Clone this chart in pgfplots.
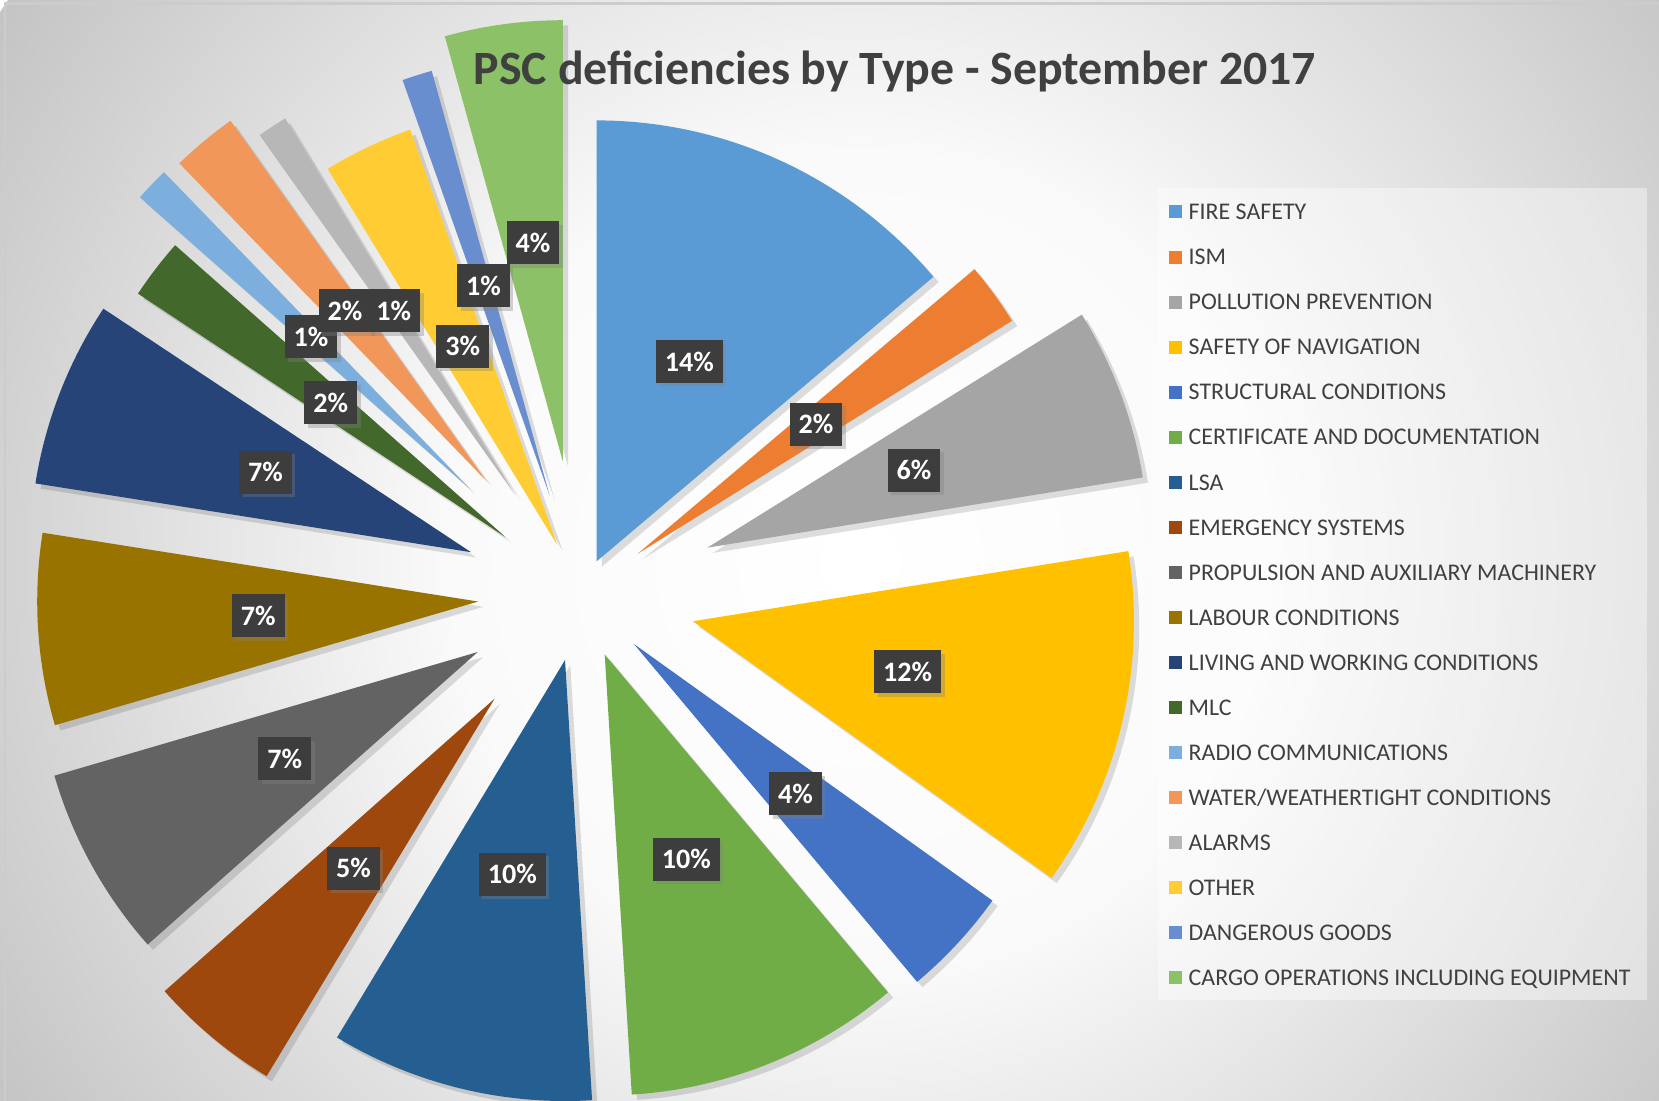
\documentclass[border=0pt]{standalone}
\usepackage{fontspec}
\setmainfont{Carlito}
\usepackage{pgfplots}
\pgfplotsset{compat=1.18}
\usepackage{pgfplotstable}
\usetikzlibrary{shadows}

% Office palette, one colour per category
\definecolor{c0}{HTML}{5B9BD5}
\definecolor{c1}{HTML}{ED7D31}
\definecolor{c2}{HTML}{A5A5A5}
\definecolor{c3}{HTML}{FFC000}
\definecolor{c4}{HTML}{4472C4}
\definecolor{c5}{HTML}{70AD47}
\definecolor{c6}{HTML}{255E91}
\definecolor{c7}{HTML}{9E480E}
\definecolor{c8}{HTML}{636363}
\definecolor{c9}{HTML}{997300}
\definecolor{c10}{HTML}{264478}
\definecolor{c11}{HTML}{43682B}
\definecolor{c12}{HTML}{7CAFDD}
\definecolor{c13}{HTML}{F1975A}
\definecolor{c14}{HTML}{B7B7B7}
\definecolor{c15}{HTML}{FFCD33}
\definecolor{c16}{HTML}{698ED0}
\definecolor{c17}{HTML}{8CC168}
\definecolor{txt}{HTML}{404040}
\definecolor{lbl}{HTML}{3D3D3D}
\definecolor{bgdark}{HTML}{C4C4C4}
\definecolor{bglight}{HTML}{FAFAFA}
\pgfdeclareradialshading{bgshade}{\pgfpoint{0bp}{0bp}}{color(0bp)=(white); color(10bp)=(bglight); color(25bp)=(bgdark); color(50bp)=(bgdark)}

% share of deficiencies (%) and how far each slice is pulled out (px)
\pgfplotstableread[col sep=comma]{
name,val,exp
FIRE SAFETY,13.8,37
ISM,2.3,70
POLLUTION PREVENTION,6.3,135
SAFETY OF NAVIGATION,12.4,115
STRUCTURAL CONDITIONS,4.0,72
CERTIFICATE AND DOCUMENTATION,10.1,64
LSA,9.6,67
EMERGENCY SYSTEMS,4.8,135
PROPULSION AND AUXILIARY MACHINERY,7.0,118
LABOUR CONDITIONS,7.0,103
LIVING AND WORKING CONDITIONS,6.8,118
MLC,2.2,95
RADIO COMMUNICATIONS,1.25,153
WATER/WEATHERTIGHT CONDITIONS,2.4,149
ALARMS,1.1,120
OTHER,3.3,55
DANGEROUS GOODS,1.1,104
CARGO OPERATIONS INCLUDING EQUIPMENT,4.3,135
}\pscdata

\def\cx{581}\def\cy{506}\def\rad{441}

\begin{document}
\begin{tikzpicture}
% total and slice geometry
\def\tot{0}
\pgfplotsforeachungrouped \i in {0,...,17}{%
  \pgfplotstablegetelem{\i}{val}\of\pscdata
  \pgfmathsetmacro\tot{\tot+\pgfplotsretval}}
\def\cum{0}
\pgfplotsforeachungrouped \i in {0,...,17}{%
  \pgfplotstablegetelem{\i}{val}\of\pscdata \let\v\pgfplotsretval
  \pgfplotstablegetelem{\i}{exp}\of\pscdata \let\e\pgfplotsretval
  \pgfmathsetmacro\aone{90-360*(\cum/\tot)}
  \pgfmathsetmacro\cum{\cum+\v}
  \pgfmathsetmacro\atwo{90-360*(\cum/\tot)}
  \pgfmathsetmacro\bis{(\aone+\atwo)/2}
  \pgfmathsetmacro\tx{\cx+\e*cos(\bis)}
  \pgfmathsetmacro\ty{\cy+\e*sin(\bis)}
  \pgfmathsetmacro\ox{\tx+\rad*cos(\aone)}
  \pgfmathsetmacro\oy{\ty+\rad*sin(\aone)}
  \pgfmathsetmacro\lx{\tx+0.5*\rad*cos(\bis)}
  \pgfmathsetmacro\ly{\ty+0.5*\rad*sin(\bis)}
  \pgfmathtruncatemacro\pct{round(100*(\v/\tot))}
  \expandafter\xdef\csname tx\i\endcsname{\tx}
  \expandafter\xdef\csname ty\i\endcsname{\ty}
  \expandafter\xdef\csname ox\i\endcsname{\ox}
  \expandafter\xdef\csname oy\i\endcsname{\oy}
  \expandafter\xdef\csname aa\i\endcsname{\aone}
  \expandafter\xdef\csname ab\i\endcsname{\atwo}
  \expandafter\xdef\csname lx\i\endcsname{\lx}
  \expandafter\xdef\csname ly\i\endcsname{\ly}
  \expandafter\xdef\csname pc\i\endcsname{\pct}}

% chart area background
\begin{scope}
  \clip (0,0) rectangle (16.59,11.01);
  \shade[shading=bgshade] (8.6,5.4) circle (10.2);
\end{scope}
\draw[gray!40, line width=0.8pt] (0.05,0) -- (0.05,10.975) -- (16.59,10.975);

\begin{axis}[
  at={(0,0)}, anchor=south west,
  scale only axis, width=16.59cm, height=11.01cm,
  xmin=0, xmax=1659, ymin=0, ymax=1101,
  hide axis, clip=false]
\pgfplotsextra{
  % soft shadows under the slices
  \begin{scope}[xshift=1.5pt, yshift=-1.5pt]
  \pgfplotsforeachungrouped \i in {0,...,17}{%
    \edef\tx{\csname tx\i\endcsname}\edef\ty{\csname ty\i\endcsname}%
    \edef\ox{\csname ox\i\endcsname}\edef\oy{\csname oy\i\endcsname}%
    \edef\aone{\csname aa\i\endcsname}\edef\atwo{\csname ab\i\endcsname}%
    \fill[black, opacity=0.13] (axis cs:\tx,\ty) -- (axis cs:\ox,\oy)
      arc[start angle=\aone, end angle=\atwo, radius=4.41cm] -- cycle;}
  \end{scope}
  % slices
  \pgfplotsforeachungrouped \i in {0,...,17}{%
    \edef\tx{\csname tx\i\endcsname}\edef\ty{\csname ty\i\endcsname}%
    \edef\ox{\csname ox\i\endcsname}\edef\oy{\csname oy\i\endcsname}%
    \edef\aone{\csname aa\i\endcsname}\edef\atwo{\csname ab\i\endcsname}%
    \edef\col{c\i}%
    \fill[fill=\col] (axis cs:\tx,\ty) -- (axis cs:\ox,\oy)
      arc[start angle=\aone, end angle=\atwo, radius=4.41cm] -- cycle;}
  % data labels
  \pgfplotsforeachungrouped \i in {0,...,17}{%
    \edef\lx{\csname lx\i\endcsname}\edef\ly{\csname ly\i\endcsname}%
    \edef\pct{\csname pc\i\endcsname}%
    \node[fill=lbl, text=white, font=\bfseries\fontsize{8}{9}\selectfont,
      inner xsep=0.09cm, minimum height=0.43cm,
      drop shadow={shadow xshift=1pt, shadow yshift=-1pt, opacity=0.35}]
      at (axis cs:\lx,\ly) {\pct\%};}
  % title
  \node[anchor=base, text=txt, font=\bfseries\fontsize{13.6}{16}\selectfont]
    at (axis cs:895,1016) {PSC deficiencies by Type - September 2017};
  % legend
  \fill[white, opacity=0.4] (axis cs:1158,101) rectangle (axis cs:1647,913);
  \pgfplotsforeachungrouped \i in {0,...,17}{%
    \pgfplotstablegetelem{\i}{name}\of\pscdata \let\nm\pgfplotsretval
    \pgfmathsetmacro\yy{1101-(212+45.06*\i)}%
    \edef\col{c\i}%
    \fill[fill=\col] (axis cs:1169,\yy-6.5) rectangle (axis cs:1182,\yy+6.5);
    \node[anchor=base west, inner sep=0, text=txt, font=\fontsize{6.8}{8}\selectfont]
      at (axis cs:1188,\yy-7.7) {\nm};}
}
\end{axis}
\pgfresetboundingbox
\useasboundingbox (0,0) rectangle (16.59,11.01);
\end{tikzpicture}
\end{document}
